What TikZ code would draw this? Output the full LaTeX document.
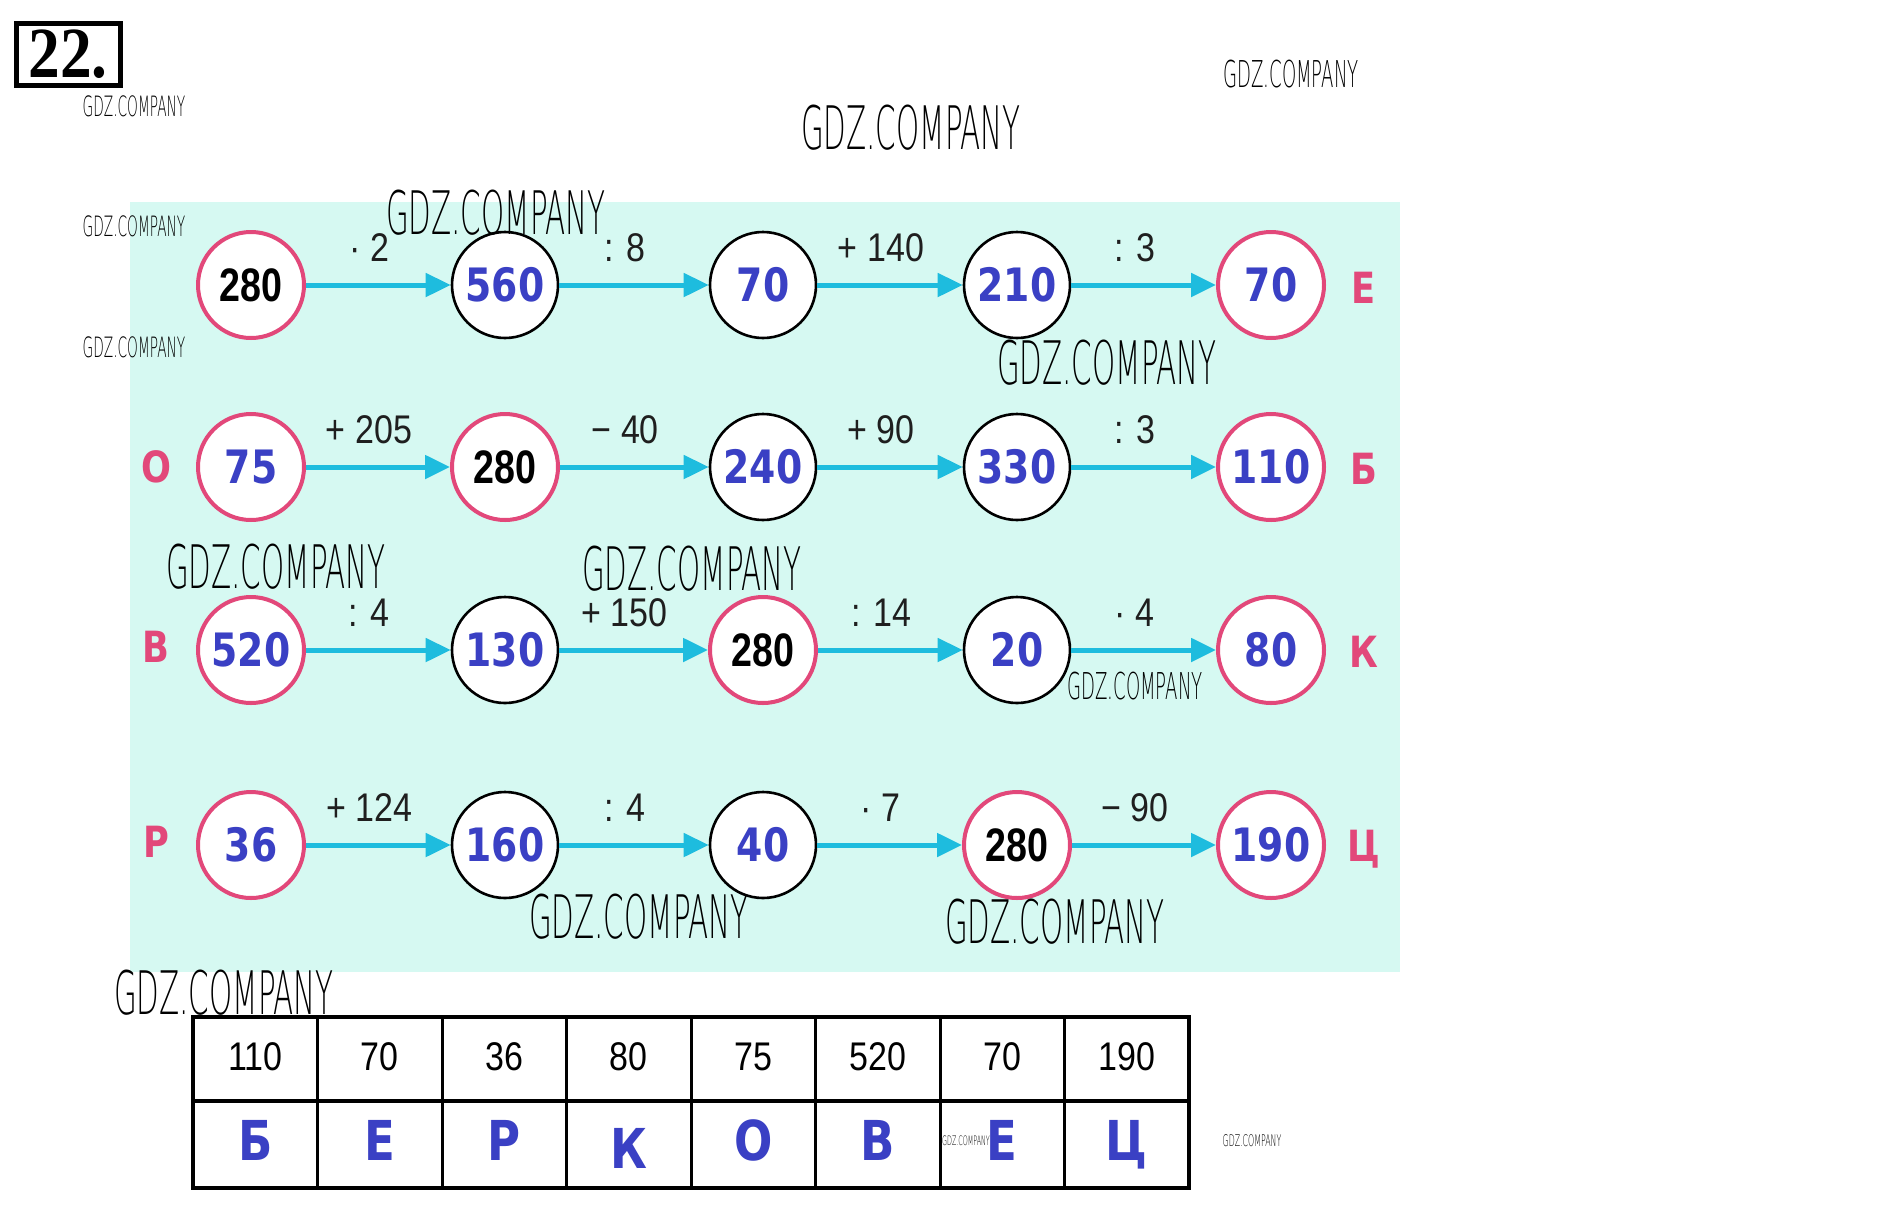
\documentclass[tikz,border=0pt]{standalone}
\usepackage{fontspec}
\setmainfont{Liberation Sans}
\newfontfamily\bluefont[FakeStretch=0.82]{DejaVu Sans}
\newfontfamily\blackfont[FakeStretch=0.8]{Liberation Sans}
\newfontfamily\opfont[FakeStretch=0.85]{Liberation Sans}
\newfontfamily\wmfont[FakeStretch=0.49]{DejaVu Sans ExtraLight}
\newfontfamily\titlefont[FakeStretch=0.88]{Liberation Serif}
\usetikzlibrary{arrows.meta,calc}
\definecolor{pinkc}{RGB}{226,72,122}
\definecolor{numblue}{RGB}{58,64,196}
\definecolor{arrcyan}{RGB}{30,188,222}
\definecolor{tealbg}{RGB}{214,249,242}
\tikzset{
  ring/.style={circle, fill=white, inner sep=0pt, minimum size=106pt},
  pk/.style={ring, draw=pinkc, line width=4pt},
  bk/.style={ring, draw=black, line width=2.6pt},
  bn/.style={text=numblue, font=\bluefont\bfseries\fontsize{46}{46}\selectfont},
  kn/.style={text=black, font=\blackfont\bfseries\fontsize{47}{47}\selectfont},
  op/.style={text=black!88, font=\opfont\fontsize{40}{40}\selectfont, inner sep=0pt},
  arr/.style={draw=arrcyan, line width=5pt, -{Triangle[length=25pt,width=23pt]}},
  let/.style={text=pinkc, font=\bluefont\bfseries\fontsize{43}{43}\selectfont, inner sep=0pt},
  tnum/.style={anchor=base, text=black, font=\opfont\fontsize{40}{40}\selectfont, inner sep=0pt},
  tlet/.style={anchor=base, text=numblue, font=\bluefont\bfseries\fontsize{55}{55}\selectfont, inner sep=0pt},
  wm/.style={text=black, inner sep=0pt, font=\wmfont\fontsize{#1}{#1}\selectfont},
}
\begin{document}
\begin{tikzpicture}[x=1pt,y=-1pt]
\useasboundingbox (0,0) rectangle (1887,1208);
\fill[white] (0,0) rectangle (1887,1208);
\fill[tealbg] (130,202) rectangle (1400,972);

% title
\node[draw=black, line width=5pt, minimum width=104pt, minimum height=62pt, inner sep=0pt,
      font=\titlefont\bfseries\fontsize{72}{72}\selectfont] (title) at (68,54.5) {22.};

% row 1
\node[pk,kn] (a1) at (251,285) {280};
\node[bk,bn] (a2) at (505,285) {560};
\node[bk,bn] (a3) at (763,285) {70};
\node[bk,bn] (a4) at (1017,285) {210};
\node[pk,bn] (a5) at (1271,285) {70};
% row 2
\node[pk,bn] (b1) at (251,467) {75};
\node[pk,kn] (b2) at (505,467) {280};
\node[bk,bn] (b3) at (763,467) {240};
\node[bk,bn] (b4) at (1017,467) {330};
\node[pk,bn] (b5) at (1271,467) {110};
% row 3
\node[pk,bn] (c1) at (251,650) {520};
\node[bk,bn] (c2) at (505,650) {130};
\node[pk,kn] (c3) at (763,650) {280};
\node[bk,bn] (c4) at (1017,650) {20};
\node[pk,bn] (c5) at (1271,650) {80};
% row 4
\node[pk,bn] (d1) at (251,845) {36};
\node[bk,bn] (d2) at (505,845) {160};
\node[bk,bn] (d3) at (763,845) {40};
\node[pk,kn] (d4) at (1017,845) {280};
\node[pk,bn] (d5) at (1271,845) {190};

% arrows and operation labels
\foreach \r/\la/\lb/\lc/\ld in {a/{· 2}/{: 8}/{+ 140}/{: 3},
                                 b/{+ 205}/{− 40}/{+ 90}/{: 3},
                                 c/{: 4}/{+ 150}/{: 14}/{· 4},
                                 d/{+ 124}/{: 4}/{· 7}/{− 90}}{
  \foreach \i/\j/\t in {1/2/\la, 2/3/\lb, 3/4/\lc, 4/5/\ld}{
    \draw[arr] (\r\i) -- (\r\j);
    \node[op] (op\r\i) at ($(\r\i.east)!0.5!(\r\j.west)+(-9,-37)$) {\t};
  }
}

% side letters
\node[let] (la) at (1364,288) {Е};
\node[let] (lb0) at (156,467) {О};
\node[let] (lb) at (1364,469) {Б};
\node[let] (lc0) at (156,647) {В};
\node[let] (lc) at (1364,652) {К};
\node[let] (ld0) at (156,842) {Р};
\node[let] (ld) at (1364,849) {Ц};

% table
\fill[white] (193,1017) rectangle (1189,1188);
\draw[line width=3.5pt] (193,1017) rectangle (1189,1188);
\draw[line width=3.5pt] (193,1101) -- (1189,1101);
\foreach \k in {1,...,7}{
  \draw[line width=3pt] (193+124.5*\k,1017) -- (193+124.5*\k,1188);
}
\foreach \k/\n/\l/\dy in {1/110/Б/0, 2/70/Е/0, 3/36/Р/0, 4/80/К/8, 5/75/О/0, 6/520/В/0, 7/70/Е/0, 8/190/Ц/0}{
  \node[tnum] (t\k) at (193+124.5*\k-62.25,1070) {\n};
  \node[tlet] (u\k) at (193+124.5*\k-62.25,1160+\dy) {\l};
}

% watermarks
\node[wm=28] (w1) at (134,106) {GDZ.COMPANY};
\node[wm=28] (w2) at (134,226) {GDZ.COMPANY};
\node[wm=28] (w3) at (134,347) {GDZ.COMPANY};
\node[wm=37] (w4) at (1291,74) {GDZ.COMPANY};
\node[wm=60] (w5) at (911,128) {GDZ.COMPANY};
\node[wm=60] (w6) at (496,213) {GDZ.COMPANY};
\node[wm=60] (w7) at (1107,363) {GDZ.COMPANY};
\node[wm=60] (w8) at (276,567) {GDZ.COMPANY};
\node[wm=60] (w9) at (692,569) {GDZ.COMPANY};
\node[wm=37] (w10) at (1135,686) {GDZ.COMPANY};
\node[wm=60] (w11) at (639,917) {GDZ.COMPANY};
\node[wm=60] (w12) at (1055,922) {GDZ.COMPANY};
\node[wm=60] (w13) at (224,993) {GDZ.COMPANY};
\node[wm=13] (w14) at (966,1141) {GDZ.COMPANY};
\node[wm=16] (w15) at (1252,1141) {GDZ.COMPANY};
\end{tikzpicture}
\end{document}
